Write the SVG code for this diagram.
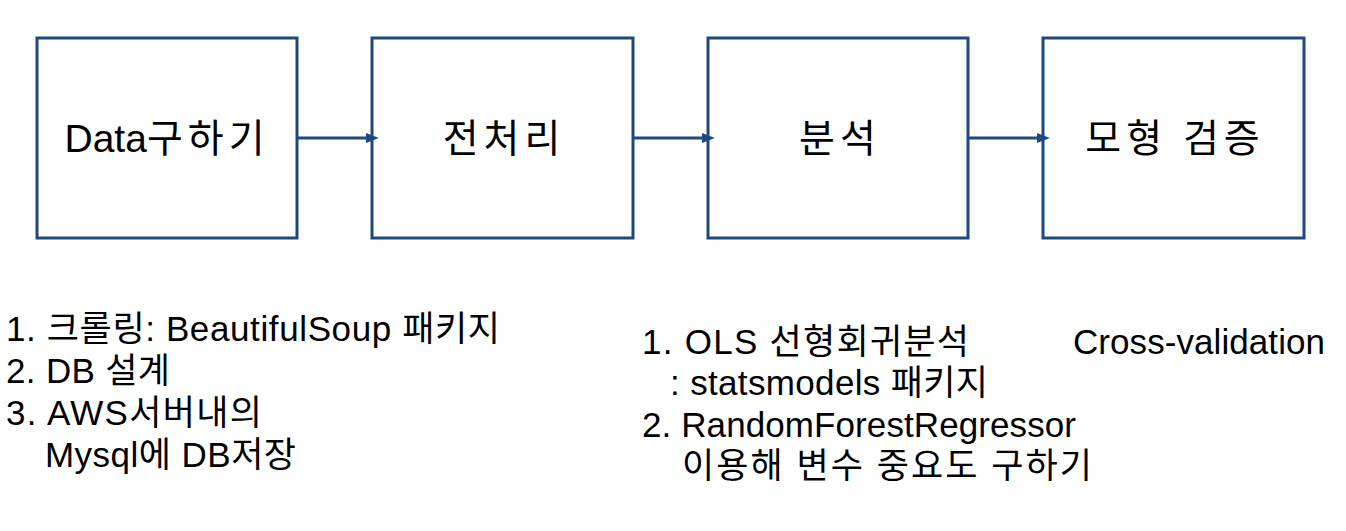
<svg xmlns="http://www.w3.org/2000/svg" width="1346" height="531" viewBox="0 0 1346 531">
<defs>
<style>
.box{fill:#fff;stroke:#1f497d;stroke-width:3}
.lbl{font-family:"Liberation Sans","Noto Sans CJK KR",sans-serif;font-size:39px;fill:#000;text-anchor:middle}
.ko{letter-spacing:5px}
.note{font-family:"Liberation Sans","Noto Sans CJK KR",sans-serif;font-size:35px;fill:#000}
.edge{stroke:#1f497d;stroke-width:3;fill:none}
</style>
<marker id="ah" markerWidth="13" markerHeight="10" refX="0" refY="5" orient="auto" markerUnits="userSpaceOnUse">
<path d="M0,0 L13,5 L0,10 z" fill="#1f497d"/>
</marker>
</defs>
<rect width="1346" height="531" fill="#fff"/>
<g id="node-data">
<rect class="box" x="37" y="38" width="260" height="200"/>
<text class="lbl" x="167" y="152">Data<tspan class="ko">구하기</tspan></text>
</g>
<g id="node-preprocess">
<rect class="box" x="372" y="38" width="261" height="200"/>
<text class="lbl ko" x="504" y="152">전처리</text>
</g>
<g id="node-analysis">
<rect class="box" x="708" y="38" width="260" height="200"/>
<text class="lbl ko" x="840" y="152">분석</text>
</g>
<g id="node-validation">
<rect class="box" x="1043" y="38" width="261" height="200"/>
<text class="lbl ko" x="1175" y="152">모형 검증</text>
</g>
<g id="connectors">
<line class="edge" x1="297" y1="138" x2="366" y2="138" marker-end="url(#ah)"/>
<line class="edge" x1="633" y1="138" x2="702" y2="138" marker-end="url(#ah)"/>
<line class="edge" x1="968" y1="138" x2="1037" y2="138" marker-end="url(#ah)"/>
</g>
<g id="notes-left">
<text class="note" x="6" y="341" textLength="494" lengthAdjust="spacing">1. 크롤링: BeautifulSoup 패키지</text>
<text class="note" x="6" y="383" textLength="164" lengthAdjust="spacing">2. DB 설계</text>
<text class="note" x="6" y="425" textLength="256" lengthAdjust="spacing">3. AWS서버내의</text>
<text class="note" x="45" y="467" textLength="251" lengthAdjust="spacing">Mysql에 DB저장</text>
</g>
<g id="notes-right">
<text class="note" x="642" y="354" textLength="327" lengthAdjust="spacing">1. OLS 선형회귀분석</text>
<text class="note" x="1073" y="354" textLength="252" lengthAdjust="spacing">Cross-validation</text>
<text class="note" x="670" y="395" textLength="318" lengthAdjust="spacing">: statsmodels 패키지</text>
<text class="note" x="642" y="437" textLength="434" lengthAdjust="spacing">2. RandomForestRegressor</text>
<text class="note" x="682" y="478" textLength="410" lengthAdjust="spacing">이용해 변수 중요도 구하기</text>
</g>
</svg>
